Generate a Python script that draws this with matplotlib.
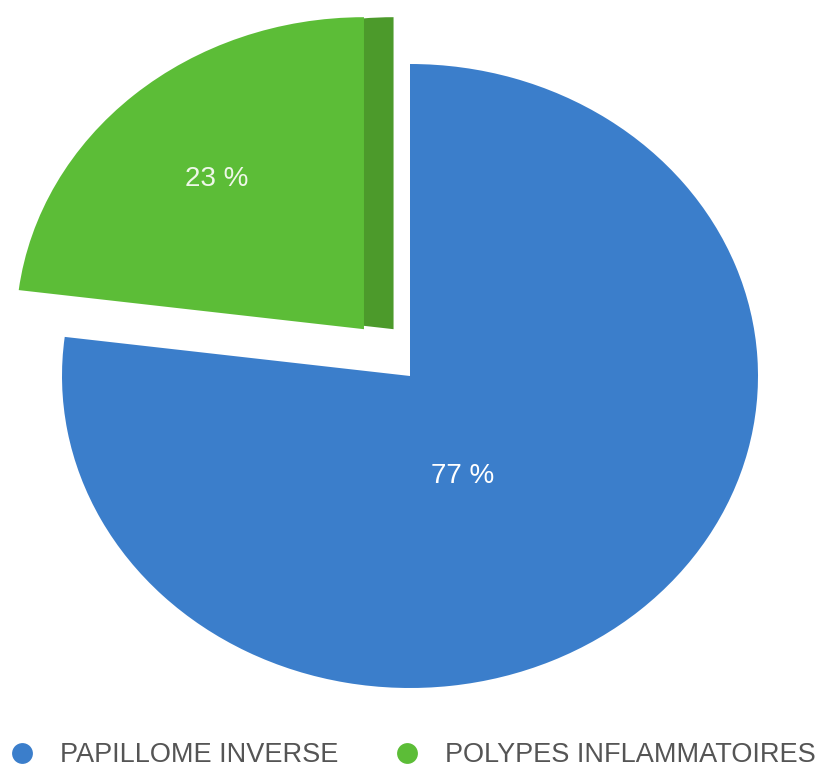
import matplotlib.pyplot as plt
from matplotlib.patches import Wedge
from matplotlib.lines import Line2D

labels = ['PAPILLOME INVERSE', 'POLYPES INFLAMMATOIRES']
values = [77, 23]
colors = ['#3b7ecb', '#5cbd37']
side_color = '#4c9a2b'

plt.rcParams['font.family'] = ['Liberation Sans', 'DejaVu Sans']

W, H = 817, 768
fig = plt.figure(figsize=(W / 100, H / 100), dpi=100)
ax = fig.add_axes([0, 0, 1, 1])

wedges, texts, autotexts = ax.pie(
    values, colors=colors, startangle=90, counterclock=False,
    explode=[0, 0.2], autopct='%d %%', pctdistance=0.64,
    textprops=dict(color='white', fontsize=20), frame=True)

# thickness of the pulled-out slice
g = wedges[1]
side = Wedge((g.center[0] + 0.085, g.center[1]), g.r, g.theta1, g.theta2,
             facecolor=side_color, edgecolor='none', zorder=g.get_zorder() - 0.5)
ax.add_patch(side)

autotexts[0].set_position((0.15, -0.32))
autotexts[1].set_color('#eef7e8')

# flatten the disc into an ellipse (centre at 410, 376 px; radii 348 x 312 px)
cx, cy, rx, ry = 410, 376, 348, 312
ax.set_aspect('auto')
ax.set_xlim(-cx / rx, (W - cx) / rx)
ax.set_ylim(-(H - cy) / ry, cy / ry)
ax.axis('off')

handles = [Line2D([], [], marker='o', linestyle='none', markersize=15,
                  markerfacecolor=c, markeredgecolor='none') for c in colors]
fig.legend(handles, labels, loc='center left',
           bbox_to_anchor=(8.5 / W, (H - 755) / H),
           ncol=2, frameon=False, fontsize=19.5, labelcolor='#555555',
           handlelength=1.0, handletextpad=0.9, columnspacing=2.05,
           borderaxespad=0, borderpad=0)

fig.savefig('out.png', dpi=100, facecolor='white')
